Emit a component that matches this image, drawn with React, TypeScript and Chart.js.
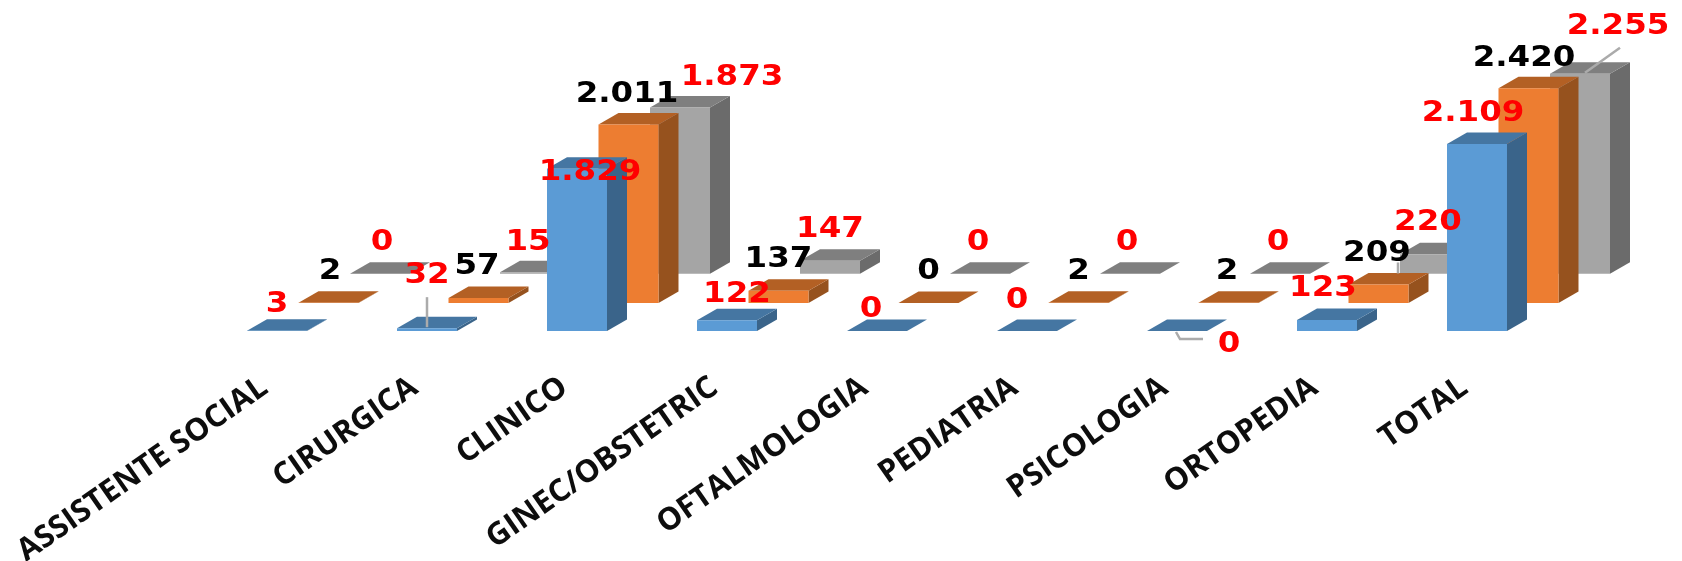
import React, { useEffect, useRef } from "react";
import { Chart, registerables } from "chart.js";

Chart.register(...registerables);

const categories = ["ASSISTENTE SOCIAL", "CIRURGICA", "CLINICO", "GINEC/OBSTETRIC", "OFTALMOLOGIA", "PEDIATRIA", "PSICOLOGIA", "ORTOPEDIA", "TOTAL"];
const serieA = [3, 32, 1829, 122, 0, 0, 0, 123, 2109];
const serieB = [2, 57, 2011, 137, 0, 2, 2, 209, 2420];
const serieC = [0, 15, 1873, 147, 0, 0, 0, 220, 2255];

// label placement relative to each bar's top centre
const nudgeA = [[0, -29], [0, -55], [13, 1], [10, -28], [-6, -24], [-10, -33], [52, 11], [-4, -34], [-4, -33]];
const nudgeB = [[1.5, -34], [-1.5, -34], [-1.5, -33], [0, -34], [0, -34], [0, -34], [-1.5, -34], [-1.5, -34], [-4.5, -33]];
const nudgeC = [[2, -34], [-2, -33], [52, -33], [0, -34], [-2, -34], [-3, -34], [-2, -34], [-2, -34], [38, -50]];

const DEPTH_X = 20;
const DEPTH_Y = 11.5;
const PX_PER_UNIT = 0.0887;
const RANGE = 331 / PX_PER_UNIT;

const fmt = (v: number) => (v >= 1000 ? `${Math.floor(v / 1000)}.${String(v % 1000).padStart(3, "0")}` : String(v));

const faces = [
  { side: "#3A648A", top: "#4576A2" },
  { side: "#96521E", top: "#B36024" },
  { side: "#6B6B6B", top: "#7F7F7F" },
];

const box3d = {
  id: "box3d",
  beforeDatasetDraw(chart: any, args: any) {
    const { ctx } = chart;
    const c = faces[args.index];
    args.meta.data.forEach((el: any) => {
      const { x, y, base, width } = el.getProps(["x", "y", "base", "width"], true);
      const l = x - width / 2;
      const r = x + width / 2;
      ctx.fillStyle = c.side;
      ctx.beginPath();
      ctx.moveTo(r, y);
      ctx.lineTo(r + DEPTH_X, y - DEPTH_Y);
      ctx.lineTo(r + DEPTH_X, base - DEPTH_Y);
      ctx.lineTo(r, base);
      ctx.closePath();
      ctx.fill();
      ctx.fillStyle = c.top;
      ctx.beginPath();
      ctx.moveTo(l, y);
      ctx.lineTo(l + DEPTH_X, y - DEPTH_Y);
      ctx.lineTo(r + DEPTH_X, y - DEPTH_Y);
      ctx.lineTo(r, y);
      ctx.closePath();
      ctx.fill();
    });
  },
};

const labelColors = ["#FF0000", "#000000", "#FF0000"];
const nudges = [nudgeA, nudgeB, nudgeC];

const valueLabels = {
  id: "valueLabels",
  afterDatasetsDraw(chart: any) {
    const { ctx } = chart;
    const at = (ds: number, i: number) => {
      const el = chart.getDatasetMeta(ds).data[i];
      return { x: el.x, y: el.y };
    };
    // leader lines, anchored to the bars they belong to
    ctx.save();
    ctx.strokeStyle = "#ABABAB";
    ctx.lineWidth = 2.5;
    const leader = (pts: number[][], a: { x: number; y: number }) => {
      ctx.beginPath();
      pts.forEach(([dx, dy], k) => (k ? ctx.lineTo(a.x + dx, a.y + dy) : ctx.moveTo(a.x + dx, a.y + dy)));
      ctx.stroke();
    };
    leader([[0, -31], [0, -1]], at(0, 1));
    leader([[-1, 1], [3, 8], [26, 8]], at(0, 6));
    leader([[40, -26], [5, -1]], at(2, 8));
    leader([[19.5, -22], [19.5, -11]], at(1, 7));
    ctx.restore();

    ctx.save();
    ctx.font = "bold 28px 'DejaVu Sans'";
    ctx.textAlign = "center";
    ctx.textBaseline = "middle";
    chart.data.datasets.forEach((ds: any, d: number) => {
      ds.data.forEach((v: number, i: number) => {
        const p = at(d, i);
        const [dx, dy] = nudges[d][i];
        ctx.save();
        ctx.translate(p.x + dx, p.y + dy + 3);
        ctx.scale(1.16, 1);
        ctx.fillStyle = labelColors[d];
        ctx.fillText(fmt(v), 0, 0);
        ctx.restore();
      });
    });
    ctx.restore();
  },
};

export default function App() {
  const ref = useRef<HTMLCanvasElement>(null);
  useEffect(() => {
    document.body.style.margin = "0";
    document.body.style.background = "#fff";
    const shift = (px: number) => px / PX_PER_UNIT;
    const chart = new Chart(ref.current!, {
      type: "bar",
      data: {
        labels: categories,
        datasets: [
          { label: "A", data: serieA, backgroundColor: "#5B9BD5", yAxisID: "yA", clip: false },
          { label: "B", data: serieB, backgroundColor: "#ED7D31", yAxisID: "yB", clip: false },
          { label: "C", data: serieC, backgroundColor: "#A5A5A5", yAxisID: "yC", clip: false },
        ],
      },
      options: {
        responsive: false,
        animation: false,
        devicePixelRatio: 1,
        categoryPercentage: 1.03,
        barPercentage: 1.165,
        layout: { padding: { left: 253.5, right: 78.5, top: 0, bottom: 0 } },
        plugins: { legend: { display: false }, tooltip: { enabled: false }, title: { display: false } },
        scales: {
          x: {
            offset: true,
            border: { display: false },
            grid: { display: false },
            afterFit(scale: any) {
              scale.height = 230;
              scale.paddingLeft = 0;
              scale.paddingRight = 0;
            },
            ticks: {
              autoSkip: false,
              minRotation: 35,
              maxRotation: 35,
              labelOffset: -64,
              padding: 30,
              color: "#0d0d0d",
              font: { family: "Open Sans", weight: "bold", size: 31 },
            },
          },
          yA: { display: false, min: 0, max: RANGE },
          yB: { display: false, min: -shift(28), max: RANGE - shift(28) },
          yC: { display: false, min: -shift(57.3), max: RANGE - shift(57.3) },
        } as any,
      },
      plugins: [box3d, valueLabels],
    } as any);
    return () => chart.destroy();
  }, []);
  return (
    <canvas
      ref={ref}
      width={1682}
      height={561}
      style={{ display: "block", width: 1682, height: 561, filter: "blur(0.6px)" }}
    />
  );
}
